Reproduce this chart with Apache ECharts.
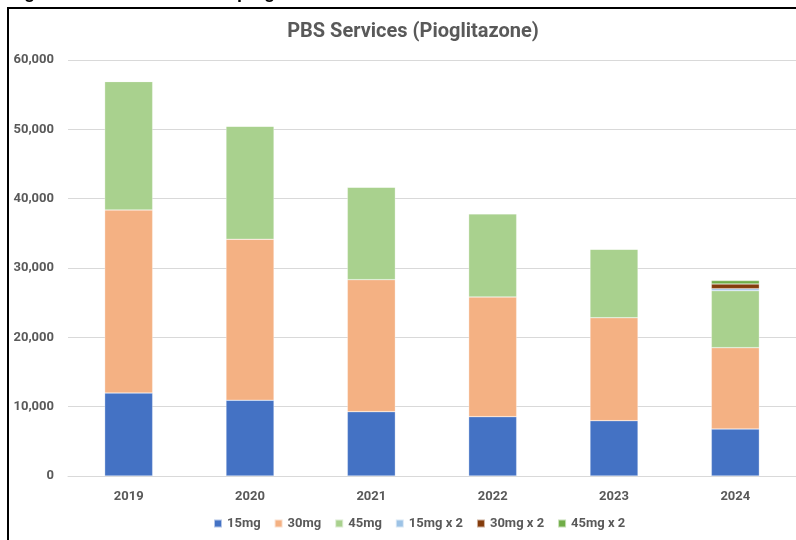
<!DOCTYPE html>
<html lang="en">
<head>
    <meta charset="UTF-8">
    <title>PBS Services (Pioglitazone)</title>
    <script src="https://cdn.jsdelivr.net/npm/echarts@6/dist/echarts.min.js"></script>
</head>
<body style="margin:0;background:#fff;">
<div id="pbs_chart" style="width: 796px;height: 540px;"></div>
<script>
    // data
    var years = ['2019', '2020', '2021', '2022', '2023', '2024'];
    var mg15 = [11970, 10920, 9280, 8560, 7980, 6780];
    var mg30 = [26400, 23220, 19040, 17260, 14850, 11730];
    var mg45 = [18530, 16340, 13370, 12010, 9910, 8220];
    var mg15x2 = [0, 0, 0, 0, 0, 290];
    var mg30x2 = [0, 0, 0, 0, 0, 680];
    var mg45x2 = [0, 0, 0, 0, 0, 480];
    var yTicks = [0, 10000, 20000, 30000, 40000, 50000, 60000];

    var names = ['15mg', '30mg', '45mg', '15mg x 2', '30mg x 2', '45mg x 2'];
    var colors = ['#4472C4', '#F4B183', '#A9D18E', '#9DC3E6', '#843C0C', '#70AD47'];
    var values = [mg15, mg30, mg45, mg15x2, mg30x2, mg45x2];

    var labelFont = 'Liberation Sans Narrow, Roboto, sans-serif';

    var series = [];
    for (var i = 0; i < names.length; i++) {
        series.push({
            name: names[i],
            type: 'bar',
            stack: 'total',
            barWidth: 48,
            data: values[i],
            itemStyle: {color: colors[i], borderColor: 'rgba(255,255,255,0.6)', borderWidth: 0.5}
        });
    }

    var myChart = echarts.init(document.getElementById('pbs_chart'));
    var option = {
        animation: false,
        color: colors,
        title: {
            text: 'PBS Services (Pioglitazone)',
            left: 408,
            textAlign: 'center',
            top: 17,
            textStyle: {color: '#595959', fontSize: 20, fontWeight: 'bold', fontFamily: labelFont}
        },
        graphic: [
            {
                type: 'rect',
                shape: {x: 8, y: 8, width: 820, height: 560},
                style: {fill: 'none', stroke: '#000', lineWidth: 2},
                silent: true
            },
            {
                type: 'text',
                left: 8,
                top: -16,
                style: {text: 'Figure 4: PBS services for pioglitazone', font: 'bold 18px Liberation Sans', fill: '#000'},
                silent: true
            }
        ],
        legend: {
            bottom: 5,
            left: 208,
            itemWidth: 8,
            itemHeight: 8,
            itemGap: 13,
            icon: 'rect',
            textStyle: {color: '#595959', fontSize: 13, fontWeight: 'bold', fontFamily: labelFont}
        },
        grid: {left: 68, right: -4, top: 60, bottom: 64},
        xAxis: {
            type: 'category',
            data: years,
            axisLine: {lineStyle: {color: '#D9D9D9'}},
            axisTick: {show: false},
            axisLabel: {color: '#595959', fontSize: 13, fontWeight: 'bold', fontFamily: labelFont, margin: 14}
        },
        yAxis: {
            type: 'value',
            min: yTicks[0],
            max: yTicks[yTicks.length - 1],
            interval: 10000,
            axisLine: {show: false},
            axisTick: {show: false},
            splitLine: {lineStyle: {color: '#D9D9D9'}},
            axisLabel: {
                color: '#595959', fontSize: 13, fontWeight: 'bold', fontFamily: labelFont, margin: 14,
                formatter: function (v) { return v.toLocaleString('en-US'); }
            }
        },
        series: series
    };
    myChart.setOption(option);
</script>
</body>
</html>
